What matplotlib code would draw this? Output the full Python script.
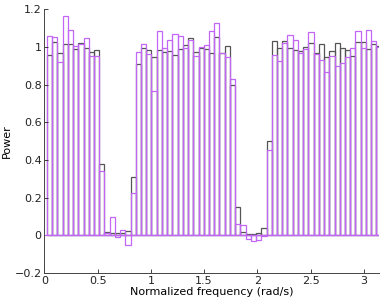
import numpy as np
import matplotlib
matplotlib.use("Agg")
import matplotlib.pyplot as plt
from matplotlib.ticker import FuncFormatter

n_bins = 64
freq = np.arange(1, n_bins + 1) * np.pi / n_bins

power_black = [
    0.96, 1.028, 0.968, 1.014, 1.016, 0.99, 1.02, 0.993, 0.975, 0.985,
    0.38, 0.02, 0.01, 0.01, 0.01, 0.023, 0.31, 0.91, 0.995, 0.984,
    0.947, 0.984, 0.972, 0.979, 0.96, 0.99, 1.01, 1.048, 0.973, 0.993,
    0.99, 0.968, 1.055, 0.97, 1.008, 0.8, 0.153, 0.016, 0.008, 0.008,
    0.01, 0.037, 0.5, 1.03, 0.993, 1.03, 0.993, 0.984, 0.979, 1.0,
    1.021, 0.968, 1.017, 0.945, 0.979, 1.023, 0.993, 0.984, 0.954, 1.026,
    1.026, 0.99, 1.014, 1.005,
]

power_magenta = [
    1.06, 1.055, 0.918, 1.167, 1.09, 1.008, 1.015, 1.047, 0.955, 0.955,
    0.344, 0.01, 0.095, -0.007, 0.03, -0.053, 0.225, 0.973, 1.014, 0.963,
    0.768, 1.085, 0.993, 1.037, 1.07, 1.058, 0.995, 1.037, 0.952, 1.0,
    1.01, 1.085, 1.127, 0.971, 0.949, 0.829, 0.058, 0.053, -0.021, -0.032,
    -0.026, -0.004, 0.455, 0.96, 0.926, 1.024, 1.063, 1.037, 0.966, 0.991,
    1.081, 0.963, 0.931, 0.869, 0.954, 0.9, 0.916, 0.945, 0.993, 1.085,
    0.993, 1.09, 1.03, 1.0,
]

xticks = [0, 0.5, 1, 1.5, 2, 2.5, 3]
yticks = [-0.2, 0, 0.2, 0.4, 0.6, 0.8, 1, 1.2]

fig = plt.figure(figsize=(3.82, 3.03), dpi=100)
ax = fig.add_axes([0.116, 0.099, 0.876, 0.870])

width = np.pi / n_bins
ax.bar(freq, power_black, width=width, fill=False, edgecolor="#555555",
       linewidth=0.9)
ax.bar(freq, power_magenta, width=width, fill=False, edgecolor="#c266f5",
       linewidth=0.9)
ax.axhline(0, color="#c266f5", linewidth=0.9)

ax.set_xlim(0, np.pi)
ax.set_ylim(-0.2, 1.2)
ax.set_xticks(xticks)
ax.set_yticks(yticks)
fmt = FuncFormatter(lambda v, p: ("%g" % round(v, 2)).replace("-", "\u2212"))
ax.xaxis.set_major_formatter(fmt)
ax.yaxis.set_major_formatter(fmt)
ax.tick_params(direction="in", labelsize=8, length=3, width=0.6,
               colors="#222222", pad=2)
for s in ["top", "right"]:
    ax.spines[s].set_visible(False)
for s in ["left", "bottom"]:
    ax.spines[s].set_linewidth(0.7)
    ax.spines[s].set_color("#444444")

ax.set_xlabel("Normalized frequency (rad/s)", fontsize=8, labelpad=1)
ax.set_ylabel("Power", fontsize=8, labelpad=2)

fig.savefig("out.png", dpi=100)
